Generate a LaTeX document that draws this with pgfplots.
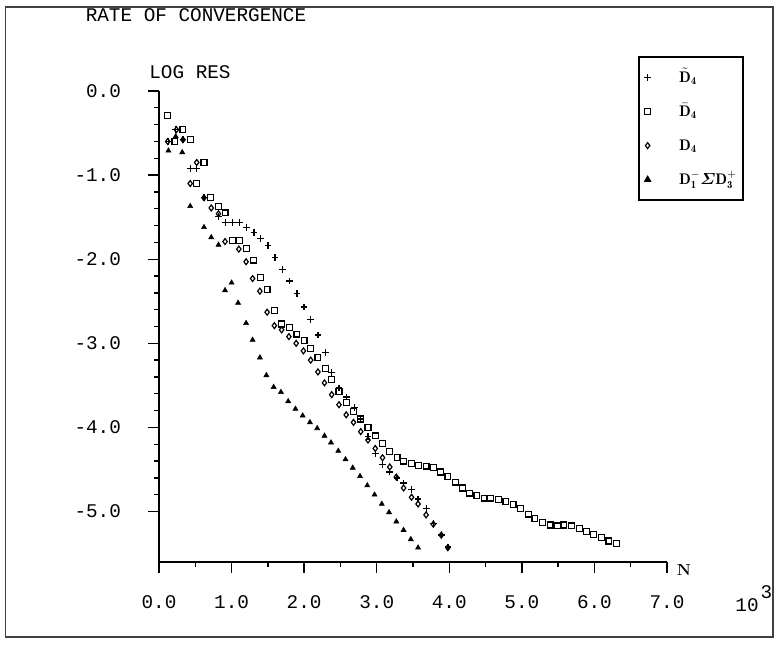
\documentclass[border=0pt]{standalone}
\usepackage{pgfplots}
\pgfplotsset{compat=1.18}
\usepackage{amsmath}
\usepackage{bm}
\usepackage{fontspec}
\setmonofont{Liberation Mono}
\newcommand\tfont{\ttfamily\fontsize{14.5}{16}\selectfont}

% D~4 (+)
\pgfplotstableread{
x y
0.13 -0.60
0.23 -0.46
0.33 -0.58
0.43 -0.92
0.52 -0.92
0.62 -1.27
0.82 -1.49
0.92 -1.56
1.01 -1.56
1.11 -1.56
1.21 -1.62
1.31 -1.68
1.40 -1.75
1.50 -1.84
1.60 -1.98
1.70 -2.12
1.80 -2.26
1.90 -2.41
2.00 -2.57
2.09 -2.72
2.19 -2.90
2.29 -3.11
2.38 -3.35
2.48 -3.53
2.58 -3.64
2.69 -3.76
2.78 -3.90
2.88 -4.11
2.98 -4.31
3.08 -4.44
3.18 -4.53
3.28 -4.60
3.37 -4.66
3.48 -4.74
3.57 -4.85
3.69 -4.96
3.78 -5.14
3.89 -5.28
3.98 -5.42
}\plusdata

% D-4 (square)
\pgfplotstableread{
x y
0.12 -0.29
0.22 -0.60
0.33 -0.46
0.43 -0.58
0.52 -1.10
0.62 -0.85
0.71 -1.27
0.82 -1.37
0.91 -1.45
1.01 -1.78
1.11 -1.78
1.21 -1.87
1.30 -2.01
1.40 -2.22
1.49 -2.36
1.59 -2.61
1.69 -2.77
1.80 -2.81
1.90 -2.89
2.00 -2.97
2.09 -3.06
2.19 -3.17
2.29 -3.30
2.38 -3.43
2.48 -3.57
2.58 -3.70
2.68 -3.81
2.78 -3.90
2.88 -4.00
2.98 -4.10
3.08 -4.19
3.18 -4.29
3.28 -4.36
3.37 -4.40
3.48 -4.43
3.58 -4.45
3.68 -4.46
3.78 -4.48
3.88 -4.53
3.98 -4.58
4.09 -4.65
4.18 -4.72
4.28 -4.78
4.38 -4.81
4.48 -4.84
4.57 -4.84
4.68 -4.86
4.78 -4.88
4.88 -4.92
4.98 -4.96
5.09 -5.03
5.18 -5.08
5.28 -5.13
5.39 -5.16
5.49 -5.17
5.58 -5.16
5.68 -5.17
5.79 -5.20
5.89 -5.24
5.99 -5.27
6.10 -5.31
6.20 -5.35
6.30 -5.38
}\squaredata

% D4 (diamond)
\pgfplotstableread{
x y
0.12 -0.60
0.24 -0.46
0.33 -0.58
0.43 -1.10
0.52 -0.85
0.62 -1.27
0.72 -1.39
0.82 -1.46
0.91 -1.79
1.10 -1.88
1.20 -2.03
1.29 -2.23
1.39 -2.38
1.49 -2.63
1.59 -2.79
1.69 -2.84
1.79 -2.92
1.89 -3.00
1.99 -3.09
2.09 -3.20
2.19 -3.34
2.28 -3.47
2.38 -3.61
2.48 -3.73
2.58 -3.85
2.68 -3.94
2.78 -4.05
2.88 -4.15
2.98 -4.25
3.08 -4.36
3.18 -4.47
3.27 -4.59
3.37 -4.72
3.48 -4.83
3.57 -4.91
3.68 -5.04
3.78 -5.15
3.89 -5.28
3.98 -5.43
}\diamonddata

% D1- Sigma D3+ (triangle)
\pgfplotstableread{
x y
0.13 -0.71
0.23 -0.54
0.32 -0.73
0.43 -1.37
0.62 -1.62
0.72 -1.74
0.82 -1.83
0.91 -2.37
1.00 -2.28
1.09 -2.52
1.20 -2.76
1.29 -2.96
1.39 -3.17
1.48 -3.38
1.58 -3.52
1.68 -3.58
1.78 -3.69
1.88 -3.78
1.98 -3.86
2.08 -3.94
2.18 -4.01
2.28 -4.10
2.37 -4.18
2.47 -4.28
2.57 -4.38
2.67 -4.48
2.77 -4.58
2.87 -4.69
2.97 -4.80
3.07 -4.91
3.17 -5.01
3.27 -5.12
3.37 -5.22
3.47 -5.33
3.57 -5.43
}\triangledata

\begin{document}
\begin{tikzpicture}
\path[use as bounding box] (-119.25pt,-63pt) rectangle (465.75pt,421.5pt);
\draw[black!75, line width=1pt] (-115pt,-56.25pt) rectangle (460.5pt,416.25pt);

\begin{axis}[
    at={(0pt,0pt)}, anchor=south west,
    scale only axis,
    width=381pt, height=353.25pt,
    xmin=0, xmax=7, ymin=-5.6, ymax=0,
    axis x line=bottom, axis y line=left,
    axis line style={-, line width=1.4pt},
    tick align=outside,
    major tick length=8pt, minor tick length=3.5pt,
    tick style={black, line width=1pt},
    xtick={0,1,2,3,4,5,6,7},
    xticklabels={0.0,1.0,2.0,3.0,4.0,5.0,6.0,7.0},
    minor x tick num=1,
    ytick={-5,-4,-3,-2,-1,0},
    yticklabels={-5.0,-4.0,-3.0,-2.0,-1.0,0.0},
    minor y tick num=4,
    ticklabel style={font=\tfont},
    xticklabel style={yshift=-14pt},
    yticklabel style={xshift=-17pt},
    clip=false,
    legend image code/.code={
        \path (-3pt,0pt) (21pt,0pt);
        \draw[#1] plot coordinates {(0pt,0pt)};
    },
    legend style={at={(0.943,1.074)}, anchor=north west, draw=black,
        line width=1.2pt, inner xsep=3pt, inner ysep=6pt,
        row sep=6.5pt, font=\fontsize{11.5}{14}\selectfont,
        nodes={text height=11pt, text depth=4pt, inner xsep=2pt}},
    legend cell align=left,
]
\addplot[only marks, mark=+, mark size=2.5pt, line width=1pt] table {\plusdata};
\addlegendentry{$\tilde{\mathbf{D}}_{\mathbf 4}$}
\addplot[only marks, mark=square, mark size=2.2pt, line width=0.9pt] table {\squaredata};
\addlegendentry{$\bar{\mathbf{D}}_{\mathbf 4}$}
\addplot[only marks, mark=diamond, mark size=2.2pt, line width=0.9pt] table {\diamonddata};
\addlegendentry{$\mathbf{D}_{\mathbf 4}$}
\addplot[only marks, mark=triangle*, mark size=2.2pt] table {\triangledata};
\addlegendentry{$\mathbf{D}^{\mathbf -}_{\mathbf 1}\bm{\varSigma}\mathbf{D}^{\mathbf +}_{\mathbf 3}$}
\end{axis}

\node[font=\tfont] at (27.75pt,410.25pt) {RATE OF CONVERGENCE};
\node[font=\tfont] at (23.25pt,367.5pt) {LOG RES};
\node[font=\bfseries\fontsize{12}{14}\selectfont] at (393.75pt,-6pt) {N};
\node[font=\tfont] at (441pt,-32.25pt) {10};
\node[font=\tfont] at (455.5pt,-22.5pt) {3};
\end{tikzpicture}
\end{document}
